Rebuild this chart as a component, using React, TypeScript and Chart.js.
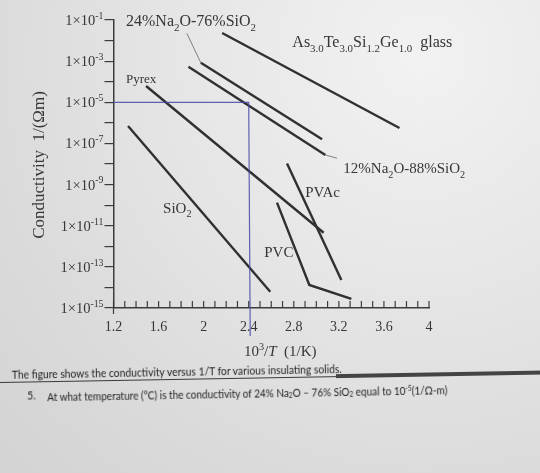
import React, { useEffect, useRef } from 'react';
import { Chart, registerables } from 'chart.js';
Chart.register(...registerables);

// x: 10^3/T (1/K); values below are log10 of conductivity (1/(Ωm))
const asGlassX = [2.164, 3.738];
const asGlassLog = [-1.63, -6.25];
const na24X = [1.975, 3.051];
const na24Log = [-3.08, -6.8];
const na12X = [1.865, 3.08];
const na12Log = [-3.27, -7.56];
const pyrexX = [1.489, 3.065];
const pyrexLog = [-4.21, -11.34];
const sio2X = [1.329, 2.591];
const sio2Log = [-6.15, -14.21];
const pvacX = [2.74, 3.222];
const pvacLog = [-7.97, -13.64];
const pvcX = [2.651, 2.938, 3.311];
const pvcLog = [-9.88, -13.88, -14.56];

// label leader lines
const na24LeaderX = [1.851, 1.975];
const na24LeaderLog = [-1.65, -3.08];
const na12LeaderX = [3.08, 3.184];
const na12LeaderLog = [-7.56, -7.72];

// axes
const xMin = 1.2;
const xMax = 4.0;
const xTickValues = [1.2, 1.6, 2.0, 2.4, 2.8, 3.2, 3.6, 4.0];
const xTickLabels = ['1.2', '1.6', '2', '2.4', '2.8', '3.2', '3.6', '4'];
const xMinorStep = 0.1;
const yDecades = [-15, -14, -13, -12, -11, -10, -9, -8, -7, -6, -5, -4, -3, -2, -1];
const yLabelExponents = [-1, -3, -5, -7, -9, -11, -13, -15];
const yLabelSup = ['-1', '-3', '-5', '-7', '-9', '-11', '-13', '-15'];

// hand-drawn guide (answer construction)
const guideX = 2.4;
const guideSigma = 1e-5;

const SERIF = '"Liberation Serif", "Times New Roman", "DejaVu Serif", serif';
const TEXT = '#363636';
const LINE = '#303030';
const AXIS = '#3c3c3c';
const BLUE = 'rgba(72, 72, 165, 0.85)';

type Seg = { t: string; sub?: boolean; sup?: boolean; italic?: boolean };

const seriesLabels: { segs: Seg[]; x: number; log: number; size: number }[] = [
  { segs: [{ t: '24%Na' }, { t: '2', sub: true }, { t: 'O-76%SiO' }, { t: '2', sub: true }], x: 1.311, log: -1.29, size: 16 },
  {
    segs: [
      { t: 'As' }, { t: '3.0', sub: true }, { t: 'Te' }, { t: '3.0', sub: true }, { t: 'Si' }, { t: '1.2', sub: true },
      { t: 'Ge' }, { t: '1.0', sub: true }, { t: '  glass' },
    ],
    x: 2.787, log: -2.31, size: 16,
  },
  { segs: [{ t: 'Pyrex' }], x: 1.311, log: -4.06, size: 13 },
  { segs: [{ t: '12%Na' }, { t: '2', sub: true }, { t: 'O-88%SiO' }, { t: '2', sub: true }], x: 3.24, log: -8.44, size: 15 },
  { segs: [{ t: 'PVAc' }], x: 2.902, log: -9.6, size: 15 },
  { segs: [{ t: 'SiO' }, { t: '2', sub: true }], x: 1.64, log: -10.38, size: 15 },
  { segs: [{ t: 'PVC' }], x: 2.538, log: -12.52, size: 15 },
];

function segFont(s: Seg, size: number) {
  const sz = s.sub || s.sup ? size * 0.68 : size;
  return `${s.italic ? 'italic ' : ''}${sz}px ${SERIF}`;
}

function richWidth(ctx: CanvasRenderingContext2D, segs: Seg[], size: number) {
  let w = 0;
  for (const s of segs) {
    ctx.font = segFont(s, size);
    w += ctx.measureText(s.t).width;
  }
  return w;
}

function drawRich(ctx: CanvasRenderingContext2D, segs: Seg[], x: number, y: number, size: number, align: 'left' | 'right' | 'center') {
  const w = richWidth(ctx, segs, size);
  let cx = align === 'left' ? x : align === 'right' ? x - w : x - w / 2;
  ctx.textAlign = 'left';
  ctx.textBaseline = 'alphabetic';
  for (const s of segs) {
    ctx.font = segFont(s, size);
    const dy = s.sub ? size * 0.3 : s.sup ? -size * 0.42 : 0;
    ctx.fillText(s.t, cx, y + dy);
    cx += ctx.measureText(s.t).width;
  }
}

const decor = {
  id: 'decor',
  afterDraw(chart: any) {
    const { ctx, chartArea: ca } = chart;
    const xs = chart.scales.x;
    const ys = chart.scales.y;
    ctx.save();

    // x minor ticks pointing inward
    ctx.strokeStyle = AXIS;
    ctx.lineWidth = 1.2;
    const n = Math.round((xMax - xMin) / xMinorStep);
    for (let k = 0; k <= n; k++) {
      const px = xs.getPixelForValue(xMin + k * xMinorStep);
      ctx.beginPath();
      ctx.moveTo(px, ca.bottom);
      ctx.lineTo(px, ca.bottom - 7);
      ctx.stroke();
    }
    // y axis stub below the x axis
    ctx.beginPath();
    ctx.moveTo(ca.left, ca.bottom);
    ctx.lineTo(ca.left, ca.bottom + 6);
    ctx.stroke();

    // guide lines (blue pen)
    ctx.strokeStyle = BLUE;
    ctx.lineWidth = 1.2;
    const gx = xs.getPixelForValue(guideX);
    const gy = ys.getPixelForValue(guideSigma);
    ctx.beginPath();
    ctx.moveTo(ca.left, gy);
    ctx.lineTo(gx, gy);
    ctx.lineTo(gx + 1.5, ca.bottom + 28);
    ctx.stroke();

    // y tick labels with superscripts
    ctx.fillStyle = TEXT;
    yLabelExponents.forEach((e, i) => {
      const py = ys.getPixelForValue(Math.pow(10, e));
      drawRich(ctx, [{ t: '1×10' }, { t: yLabelSup[i], sup: true }], ca.left - 10, py + 5, 14.5, 'right');
    });

    // series labels
    for (const l of seriesLabels) {
      drawRich(ctx, l.segs, xs.getPixelForValue(l.x), ys.getPixelForValue(Math.pow(10, l.log)), l.size, 'left');
    }

    // x axis title
    drawRich(
      ctx,
      [{ t: '10' }, { t: '3', sup: true }, { t: '/' }, { t: 'T', italic: true }, { t: '  (1/K)' }],
      (ca.left + ca.right) / 2 + 9,
      ca.bottom + 48,
      15,
      'center'
    );

    // y axis title
    ctx.translate(40, (ca.top + ca.bottom) / 2 + 1);
    ctx.rotate(-Math.PI / 2);
    ctx.font = `17px ${SERIF}`;
    ctx.textAlign = 'center';
    ctx.textBaseline = 'middle';
    ctx.fillText('Conductivity  1/(Ωm)', 0, 0);
    ctx.restore();
  },
};

function series(xsArr: number[], logs: number[], width = 2.4, color = LINE) {
  return {
    data: xsArr.map((v, i) => ({ x: v, y: Math.pow(10, logs[i]) })),
    borderColor: color,
    backgroundColor: color,
    borderWidth: width,
    pointRadius: 0,
    showLine: true,
    fill: false,
    tension: 0,
  };
}

export default function App() {
  const ref = useRef<HTMLCanvasElement | null>(null);
  useEffect(() => {
    if (!ref.current) return;
    const chart = new Chart(ref.current, {
      type: 'scatter',
      data: {
        datasets: [
          series(asGlassX, asGlassLog),
          series(na24X, na24Log),
          series(na12X, na12Log),
          series(pyrexX, pyrexLog),
          series(sio2X, sio2Log),
          series(pvacX, pvacLog),
          series(pvcX, pvcLog),
          series(na24LeaderX, na24LeaderLog, 0.8, '#666'),
          series(na12LeaderX, na12LeaderLog, 0.8, '#666'),
        ] as any,
      },
      options: {
        animation: false,
        responsive: false,
        devicePixelRatio: 1,
        layout: { padding: { left: 0, right: 111, top: 20, bottom: 0 } },
        plugins: { legend: { display: false }, tooltip: { enabled: false } },
        scales: {
          x: {
            type: 'linear',
            min: xMin,
            max: xMax,
            afterFit: (s: any) => {
              s.height = 57;
            },
            afterBuildTicks: (s: any) => {
              s.ticks = xTickValues.map((v) => ({ value: v }));
            },
            grid: { display: true, drawOnChartArea: false, drawTicks: false },
            border: { display: true, color: AXIS, width: 1.5 },
            ticks: {
              autoSkip: false,
              maxRotation: 0,
              padding: 11,
              color: TEXT,
              font: { family: SERIF, size: 14 },
              callback: (_v: any, i: number) => xTickLabels[i],
            },
          },
          y: {
            type: 'logarithmic',
            min: 1e-15,
            max: 1e-1,
            afterFit: (s: any) => {
              s.width = 113.5;
            },
            afterBuildTicks: (s: any) => {
              s.ticks = yDecades.map((e) => ({ value: Math.pow(10, e) }));
            },
            grid: { display: true, drawOnChartArea: false, drawTicks: true, tickLength: 9, color: AXIS, lineWidth: 1.2 },
            border: { display: true, color: AXIS, width: 1.5 },
            ticks: { padding: 0, callback: () => '' },
          },
        },
      } as any,
      plugins: [decor],
    });
    return () => chart.destroy();
  }, []);

  const capFont = 'Lato, "Open Sans", "Noto Sans", sans-serif';
  const capStyle: React.CSSProperties = {
    position: 'absolute',
    fontSize: 11.5,
    lineHeight: '14px',
    whiteSpace: 'nowrap',
    transform: 'scaleX(0.895)',
    transformOrigin: '0 50%',
  };
  return (
    <div
      style={{
        position: 'absolute',
        left: 0,
        top: 0,
        width: 540,
        height: 473,
        overflow: 'hidden',
        background: 'radial-gradient(ellipse at 78% 12%, #f2f2f2 0%, #e6e6e6 40%, #dadada 75%, #d3d3d3 100%)',
      }}
    >
      <canvas ref={ref} width={540} height={365} style={{ position: 'absolute', left: 0, top: 0, display: 'block' }} />
      <div
        style={{
          position: 'absolute',
          left: 0,
          top: 0,
          width: 540,
          height: 473,
          transform: 'rotate(-1deg)',
          transformOrigin: '0px 382px',
          fontFamily: capFont,
          color: '#1e1e1e',
        }}
      >
        <div style={{ position: 'absolute', left: 0, top: 381.5, width: 560, height: 1.6, background: '#3a3a3a' }} />
        <div style={{ position: 'absolute', left: 336, top: 380, width: 230, height: 4, background: '#444' }} />
        <div style={{ ...capStyle, left: 12, top: 368 }}>
          The figure shows the conductivity versus 1/T for various insulating solids.
        </div>
        <div style={{ ...capStyle, left: 27, top: 389 }}>5.</div>
        <div style={{ ...capStyle, left: 47, top: 389, transform: 'scaleX(0.87)' }}>
          At what temperature (°C) is the conductivity of 24% Na<sub style={{ fontSize: 7.5, verticalAlign: '-1px' }}>2</sub>O – 76% SiO
          <sub style={{ fontSize: 7.5, verticalAlign: '-1px' }}>2</sub> equal to 10<sup style={{ fontSize: 7.5, verticalAlign: '4px' }}>-5</sup>(1/Ω-m)
        </div>
      </div>
    </div>
  );
}
